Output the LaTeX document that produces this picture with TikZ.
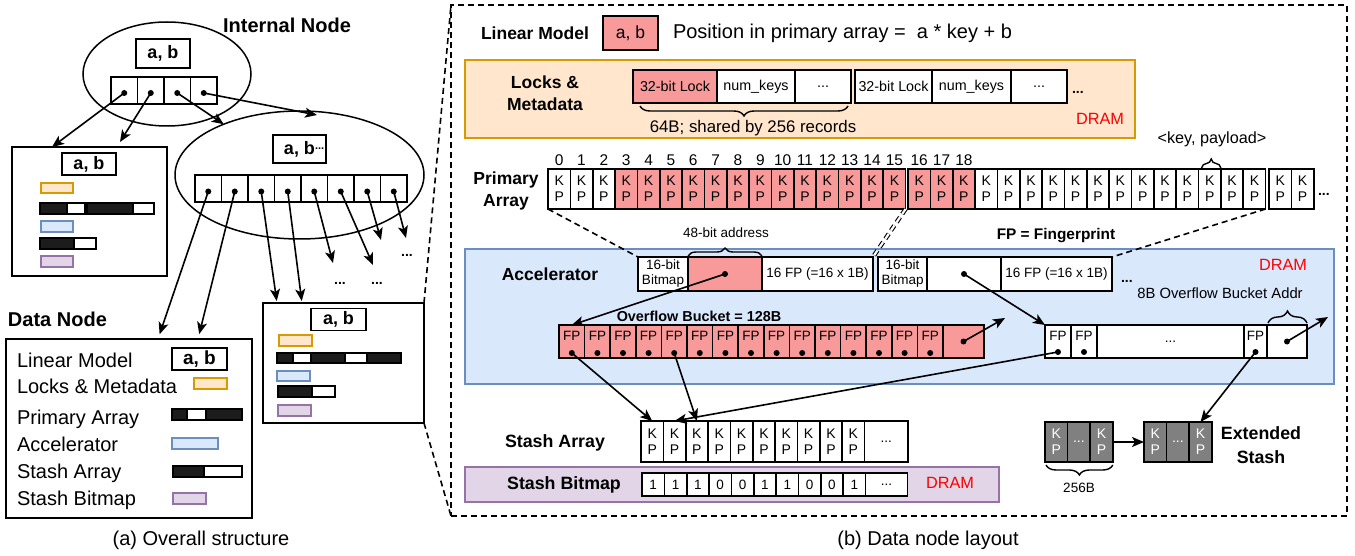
\documentclass[tikz,border=0pt]{standalone}
\usepackage{fontspec}
\setmainfont{Liberation Sans}
\usetikzlibrary{arrows.meta,decorations.pathreplacing,calc,shapes.geometric}
\definecolor{redf}{HTML}{F89A9A}
\definecolor{orf}{HTML}{FFE6CC}
\definecolor{ord}{HTML}{D79B00}
\definecolor{blf}{HTML}{DAE8FC}
\definecolor{bld}{HTML}{6C8EBF}
\definecolor{puf}{HTML}{E1D5E7}
\definecolor{pud}{HTML}{9673A6}
\definecolor{grf}{HTML}{808080}
\definecolor{barb}{HTML}{1C1C1C}
\newcommand\fsz[2]{\fontsize{#1}{#2}\selectfont}
\begin{document}
\begin{tikzpicture}[x=1pt,y=-1pt,
  every node/.style={inner sep=0pt,outer sep=0pt},
  box/.style={draw,line width=1.7pt,rectangle,anchor=north west,align=center},
  kp/.style={box,minimum width=22.35,minimum height=40,font=\fsz{14}{16}},
  gkp/.style={box,fill=grf,text=white,minimum width=22.6,minimum height=40,font=\fsz{14}{16}},
  arr/.style={-{Stealth[length=12pt,width=10pt,inset=3pt]},line width=1.6pt},
  dotn/.style={circle,fill=black,minimum size=6pt},
  pcell/.style={box,line width=1.5pt,minimum width=26.5,minimum height=27},
  abx/.style={draw,line width=1.9pt,minimum width=54,minimum height=22,font=\bfseries\fsz{18}{22}},
  hd/.style={font=\bfseries\fsz{17.5}{21.5},align=center},
  lg/.style={font=\fsz{20}{24},anchor=base west},
  bar/.style={draw,line width=1.4pt},
  dl/.style={dashed,dash pattern=on 6pt off 4pt,line width=1.6pt},
  dram/.style={text=red,font=\fsz{16.3}{19}},
  dots/.style={font=\bfseries\fsz{14}{16}},
  numl/.style={font=\fsz{15.5}{18}},
  brcu/.style={decorate,decoration={brace,amplitude=#1},line width=1.4pt},
  brcd/.style={decorate,decoration={brace,mirror,amplitude=#1},line width=1.4pt},
  fpt/.style={font=\fsz{13.5}{15}},
]
\useasboundingbox (0,0) rectangle (1355,556);

% ================= (a) left part =================
\node[font=\bfseries\fsz{20}{24}] (intl) at (287,25) {Internal Node};
\node[draw,ellipse,line width=1.5pt,minimum width=168,minimum height=104] (ie) at (167,74) {};
\node[abx,minimum height=29] (iab) at (163,53.5) {a, b};
\foreach \i in {0,...,3} {
  \node[pcell] (ic\i) at ({111+26.5*\i},77) {};
  \node[dotn] (id\i) at ($(ic\i.center)+(0,2.5)$) {};
}

% left data box
\node[box,line width=1.7pt,minimum width=155,minimum height=129] (lb) at (12,147) {};
\node[abx] (lbab) at (89,164) {a, b};
\draw[bar,draw=ord,fill=orf] (41,183) rectangle (73,193);
\draw[bar,fill=barb] (40,203) rectangle (67,214);
\draw[bar,fill=white] (67,203) rectangle (85,214);
\draw[bar,fill=barb] (87,203) rectangle (133,214);
\draw[bar,fill=white] (133,203) rectangle (154,214);
\draw[bar,draw=bld,fill=blf] (41,221) rectangle (73,232);
\draw[bar,fill=barb] (40,238) rectangle (74,249);
\draw[bar,fill=white] (74,238) rectangle (96,249);
\draw[bar,draw=pud,fill=puf] (41,256) rectangle (73,267);

% second internal node
\node[draw,ellipse,line width=1.5pt,minimum width=249,minimum height=128] (ie2) at (299.5,175) {};
\node[abx,minimum width=53,minimum height=28] (i2ab) at (299.5,149) {a, b\rlap{\raisebox{5pt}{\fsz{11}{12}...}}};
\foreach \i in {0,...,7} {
  \node[pcell] (jc\i) at ({195+26.5*\i},175) {};
  \node[dotn] (jd\i) at ($(jc\i.center)+(0,3)$) {};
}

% right small data box
\node[box,line width=1.7pt,minimum width=161,minimum height=120] (rb) at (263,303) {};
\node[abx,minimum width=55] (rbab) at (338.5,319.5) {a, b};
\draw[bar,draw=ord,fill=orf] (279,335) rectangle (312,346);
\draw[bar,fill=barb] (277,353) rectangle (293,363);
\draw[bar,fill=white] (293,353) rectangle (311,363);
\draw[bar,fill=barb] (311,353) rectangle (345,363);
\draw[bar,fill=white] (345,353) rectangle (367,363);
\draw[bar,fill=barb] (367,353) rectangle (401,363);
\draw[bar,draw=bld,fill=blf] (277,371) rectangle (310,381);
\draw[bar,fill=barb] (278,386) rectangle (312,397);
\draw[bar,fill=white] (312,386) rectangle (335,397);
\draw[bar,draw=pud,fill=puf] (278,405) rectangle (311,416);

% legend data node
\node[font=\bfseries\fsz{20}{24},anchor=west] (dnt) at (8,319) {Data Node};
\node[box,line width=1.7pt,minimum width=246,minimum height=179] (leg) at (6,339) {};
\node[lg] (t1) at (17,367) {Linear Model};
\node[abx,minimum width=55,font=\bfseries\fsz{19}{22}] (legab) at (199.5,359) {a, b};
\node[lg] (t2) at (17,393) {Locks \& Metadata};
\draw[bar,draw=ord,fill=orf] (194,378) rectangle (227,389);
\node[lg] (t3) at (17,424) {Primary Array};
\draw[bar,fill=barb] (172,409) rectangle (187,420);
\draw[bar,fill=white] (187,409) rectangle (206,420);
\draw[bar,fill=barb] (206,409) rectangle (242,420);
\node[lg] (t4) at (17,451) {Accelerator};
\draw[bar,draw=bld,fill=blf] (172,438) rectangle (218,449);
\node[lg] (t5) at (17,478) {Stash Array};
\draw[bar,fill=barb] (173,466) rectangle (204,477);
\draw[bar,fill=white] (204,466) rectangle (242,477);
\node[lg] (t6) at (17,505) {Stash Bitmap};
\draw[bar,draw=pud,fill=puf] (173,493) rectangle (206,504);

% arrows of part (a)
\draw[arr] (id0.center) -- ($(lb.north west)+(40,0)$);
\draw[arr] (id1.center) -- ($(lb.north west)+(108,-5)$);
\draw[arr] (id2.center) -- (ie2);
\draw[arr] (id3.center) -- ($(ie2.north)+(17.5,4)$);
\draw[arr,shorten >=5pt] (jd0.center) -- ($(leg.north west)+(152,0)$);
\draw[arr,shorten >=5pt] (jd1.center) -- ($(leg.north west)+(192,0)$);
\draw[arr,shorten >=2pt] (jd2.center) -- ($(rb.north west)+(14,0)$);
\draw[arr,shorten >=2pt] (jd3.center) -- ($(rb.north west)+(39,0)$);
\coordinate (e4) at (333,263);
\coordinate (e5) at (373,265);
\coordinate (e6) at (381,240);
\coordinate (e7) at (406,238);
\draw[arr] (jd4.center) -- (e4);
\draw[arr] (jd5.center) -- (e5);
\draw[arr] (jd6.center) -- (e6);
\draw[arr] (jd7.center) -- (e7);
\node[dots] (m1) at (407,255) {...};
\node[dots] (m2) at (340,283) {...};
\node[dots] (m3) at (377,283) {...};

\node[font=\fsz{20}{24}] (capa) at (201,540) {(a) Overall structure};

% ================= (b) right part =================
\node[draw,dl,minimum width=896,minimum height=511,anchor=north west] (bx) at (451,5) {};
\draw[dl] (rb.north east) -- (bx.north west);
\draw[dl] (rb.south east) -- (bx.south west);

\node[hd,anchor=west] (lmt) at (481,33) {Linear Model};
\node[box,fill=redf,minimum width=55,minimum height=34,font=\fsz{17.5}{20}] (lmab) at (603,16) {a, b};
\node[font=\fsz{20}{24},anchor=west] (pos) at (673,33) {Position in primary array =~ a * key + b};

% locks & metadata
\node[box,draw=ord,fill=orf,line width=1.8pt,minimum width=670,minimum height=78] (ob) at (465,60) {};
\node[hd] (lkt) at (545,93) {Locks \&\\Metadata};
\node[box,fill=redf,minimum width=84,minimum height=33,font=\fsz{14.3}{16}] (lk1) at (633,70) {32-bit Lock};
\node[box,fill=white,minimum width=78,minimum height=33,font=\fsz{14.3}{16}] (lk2) at (717,70) {num\_keys};
\node[box,fill=white,minimum width=56,minimum height=33,font=\fsz{14.3}{16}] (lk3) at (795,70) {...};
\node[box,fill=white,minimum width=77,minimum height=33,font=\fsz{14.3}{16}] (lk4) at (855,70) {32-bit Lock};
\node[box,fill=white,minimum width=79,minimum height=33,font=\fsz{14.3}{16}] (lk5) at (932,70) {num\_keys};
\node[box,fill=white,minimum width=56,minimum height=33,font=\fsz{14.3}{16}] (lk6) at (1011,70) {...};
\node[dots,anchor=base west] (lkd) at (1072,94) {...};
\draw[brcd=10] ($(lk1.south west)+(7,3)$) -- ($(lk3.south east)+(-3,3)$);
\node[font=\fsz{16.8}{19}] (lkn) at (753,128) {64B; shared by 256 records};
\node[dram] (dr1) at (1100,119) {DRAM};

% primary array
\node[hd] (pat) at (506,191) {Primary\\Array};
\foreach \i in {0,...,15} {
  \ifnum\i>2 \def\fc{redf}\else\def\fc{white}\fi
  \node[kp,fill=\fc] (pa\i) at ({548+22.35*\i},169) {K\\P};
  \node[numl] (pn\i) at ($(pa\i.north)+(0,-9)$) {\i};
}
\foreach \i in {16,...,31} {
  \ifnum\i<19 \def\fc{redf}\else\def\fc{white}\fi
  \node[kp,fill=\fc] (pa\i) at ({908+22.35*(\i-16)},169) {K\\P};
  \ifnum\i<19 \node[numl] (pn\i) at ($(pa\i.north)+(0,-9)$) {\i};\fi
}
\node[kp,fill=white] (pa32) at (1269,169) {K\\P};
\node[kp,fill=white] (pa33) at (1291.35,169) {K\\P};
\node[dots,anchor=base west] (pad) at (1318,196) {...};
\node[font=\fsz{16.2}{19}] (kpl) at (1212,139) {<key, payload>};
\draw[brcu=9] ($(pa29.north west)+(3,-1)$) -- ($(pa29.north east)+(0,-1)$);

% accelerator
\node[box,draw=bld,fill=blf,line width=1.8pt,minimum width=869,minimum height=135] (acc) at (465,249) {};
\node[hd] (acct) at (550,274) {Accelerator};
\node[box,fill=white,minimum width=50,minimum height=34,font=\fsz{13.5}{15}] (b1a) at (638,257) {16-bit\\Bitmap};
\node[box,fill=redf,minimum width=74,minimum height=34] (b1b) at (688,257) {};
\node[box,fill=white,minimum width=111,minimum height=34,font=\fsz{13.5}{15}] (b1c) at (762,257) {16 FP (=16 x 1B)};
\node[box,fill=white,minimum width=49,minimum height=34,font=\fsz{13.5}{15}] (b2a) at (878,257) {16-bit\\Bitmap};
\node[box,fill=white,minimum width=74,minimum height=34] (b2b) at (927,257) {};
\node[box,fill=white,minimum width=111,minimum height=34,font=\fsz{13.5}{15}] (b2c) at (1001,257) {16 FP (=16 x 1B)};
\node[dotn] (d1b) at (b1b.center) {};
\node[dotn] (d2b) at (b2b.center) {};
\node[dots,anchor=base west] (acd) at (1121,282) {...};
\node[dram] (dr2) at (1283,265) {DRAM};
\node[font=\bfseries\fsz{15.4}{18}] (fpf) at (1056,236) {FP = Fingerprint};
\node[font=\fsz{13.5}{15}] (adr) at (726,233) {48-bit address};
\draw[brcu=8] ($(b1b.north west)+(0,-1)$) -- ($(b1b.north east)+(0,-1)$);

% dashed links primary array -> accelerator
\draw[dl] (pa0.south west) -- (b1a.north west);
\draw[dl,double,double distance=2.2pt,line width=1.1pt] (pa15.south east) -- (b1c.north east);
\draw[dl] (pa31.south east) -- (b2c.north east);

% overflow bucket 1
\node[font=\bfseries\fsz{14.4}{17}] (ovt) at (699,316) {Overflow Bucket = 128B};
\foreach \i in {0,...,14} {
  \node[box,fill=redf,minimum width=25.6,minimum height=33] (of\i) at ({559+25.6*\i},325) {};
  \node[fpt] (oft\i) at ($(of\i.north)+(0,11)$) {FP};
  \node[dotn] (ofd\i) at ($(of\i.south)+(0,-5)$) {};
}
\node[box,fill=redf,minimum width=41,minimum height=33] (ofe) at (943,325) {};
\node[dotn] (ofed) at (ofe.center) {};
\coordinate (c1) at (1005,318);

% overflow bucket 2
\node[box,fill=white,minimum width=26,minimum height=33] (o2a) at (1045,325) {};
\node[box,fill=white,minimum width=26,minimum height=33] (o2b) at (1071,325) {};
\node[box,fill=white,minimum width=147,minimum height=33,font=\fsz{13.5}{15}] (o2c) at (1097,325) {...};
\node[box,fill=white,minimum width=23,minimum height=33] (o2d) at (1244,325) {};
\node[box,fill=white,minimum width=40,minimum height=33] (o2e) at (1267,325) {};
\foreach \n in {o2a,o2b,o2d} {
  \node[fpt] (\n t) at ($(\n.north)+(0,11)$) {FP};
  \node[dotn] (\n d) at ($(\n.south)+(0,-6)$) {};
}
\node[dotn] (o2ed) at (o2e.center) {};
\coordinate (c2) at (1328,317);
\node[font=\fsz{14.8}{17}] (ova) at (1220,293) {8B Overflow Bucket Addr};
\draw[brcu=12] ($(o2e.north west)+(1,-2)$) -- ($(o2e.north east)+(0,-2)$);

% stash array
\node[hd,font=\bfseries\fsz{17.8}{22}] (sat) at (555,443) {Stash Array};
\foreach \i in {0,...,9} {
  \node[kp,fill=white,minimum height=41] (st\i) at ({641+22.35*\i},421) {K\\P};
}
\node[box,fill=white,minimum width=43.5,minimum height=41,font=\fsz{13.5}{15}] (stx) at (864.5,421) {...};

% stash bitmap
\node[box,draw=pud,fill=puf,line width=1.8pt,minimum width=534,minimum height=35] (sbb) at (465,467) {};
\node[hd,font=\bfseries\fsz{17.8}{22}] (sbt) at (564,485) {Stash Bitmap};
\foreach \v [count=\i from 0] in {1,1,1,0,0,1,1,0,0,1} {
  \node[box,fill=white,minimum width=22.35,minimum height=23,font=\fsz{13.5}{15}] (bm\i) at ({642+22.35*\i},473) {\v};
}
\node[box,fill=white,minimum width=42,minimum height=23,font=\fsz{13.5}{15}] (bmx) at (865.5,473) {...};
\node[dram] (dr3) at (950,483) {DRAM};

% extended stash
\node[gkp] (es1a) at (1045,422) {K\\P};
\node[gkp] (es1b) at (1067.6,422) {...};
\node[gkp] (es1c) at (1090.2,422) {K\\P};
\node[gkp] (es2a) at (1144,422) {K\\P};
\node[gkp] (es2b) at (1166.6,422) {...};
\node[gkp] (es2c) at (1189.2,422) {K\\P};
\draw[brcd=10] ($(es1a.south west)+(1,3)$) -- ($(es1c.south east)+(0,3)$);
\node[font=\fsz{13.5}{15}] (esb) at (1079,488) {256B};
\node[hd,font=\bfseries\fsz{17.8}{24}] (est) at (1261,445) {Extended\\Stash};

% arrows of part (b)
\draw[arr] (d1b.center) -- (of0.north);
\draw[arr] (ofed.center) -- (c1);
\draw[arr] (d2b.center) -- (o2a.north west);
\draw[arr] (o2ed.center) -- (c2);
\draw[arr] (ofd0.center) -- (st0.north);
\draw[arr] (ofd4.center) -- (st2.north);
\draw[arr] (o2ad.center) -- (st1.north);
\draw[arr] (o2dd.center) -- (es2c.north);
\draw[arr] (es1c.east) -- (es2a.west);

\node[font=\fsz{20}{24}] (capb) at (928,540) {(b) Data node layout};
\end{tikzpicture}
\end{document}
